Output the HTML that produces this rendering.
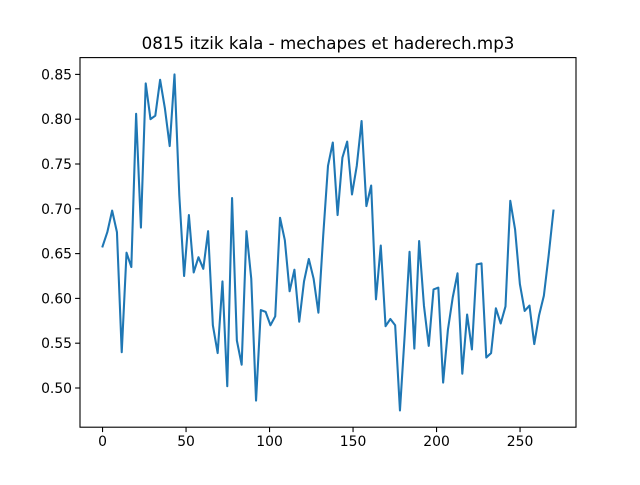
<!DOCTYPE html>
<html><head><meta charset="utf-8"><style>html,body{margin:0;padding:0;background:#fff}svg text{font-family:"DejaVu Sans","Liberation Sans",sans-serif}</style></head>
<body>
<svg id="chart" width="640" height="480" xmlns="http://www.w3.org/2000/svg">
<rect width="640" height="480" fill="#fff"/>
<text x="328" y="49" font-size="16.7" text-anchor="middle" fill="#000">0815 itzik kala - mechapes et haderech.mp3</text>
<g id="plot"></g>
</svg>
<script>
const values = [0.658,0.674,0.698,0.674,0.540,0.651,0.635,0.806,0.679,0.840,0.800,0.804,0.844,0.812,0.770,0.850,0.715,0.625,0.693,0.629,0.646,0.633,0.675,0.570,0.539,0.619,0.502,0.712,0.553,0.526,0.675,0.622,0.486,0.587,0.585,0.570,0.580,0.690,0.665,0.608,0.632,0.574,0.619,0.644,0.622,0.584,0.670,0.748,0.774,0.693,0.757,0.775,0.716,0.748,0.798,0.703,0.726,0.599,0.659,0.569,0.577,0.570,0.475,0.560,0.652,0.544,0.664,0.592,0.547,0.610,0.612,0.506,0.565,0.601,0.628,0.516,0.582,0.543,0.638,0.639,0.534,0.539,0.589,0.572,0.591,0.709,0.677,0.616,0.586,0.592,0.549,0.581,0.603,0.648,0.698];
const xMax = 270;
const xTicks = [0,50,100,150,200,250];
const yTicks = [0.50,0.55,0.60,0.65,0.70,0.75,0.80,0.85];
const yTickLabels = ["0.50","0.55","0.60","0.65","0.70","0.75","0.80","0.85"];

const L=80,R=576,T=57.6,B=427.2;
const xs = values.map((v,i)=>i*xMax/(values.length-1));
const xmin=0-xMax*0.05, xmax=xMax*1.05;
const vmin=Math.min(...values), vmax=Math.max(...values), pad=(vmax-vmin)*0.05;
const ymin=vmin-pad, ymax=vmax+pad;
const X=x=>L+(x-xmin)/(xmax-xmin)*(R-L);
const Y=y=>B-(y-ymin)/(ymax-ymin)*(B-T);
const NS="http://www.w3.org/2000/svg";
const g=document.getElementById('plot');
function el(t,a){const e=document.createElementNS(NS,t);for(const k in a)e.setAttribute(k,a[k]);g.appendChild(e);return e;}

const line=el('polyline',{points:xs.map((x,i)=>X(x).toFixed(2)+','+Y(values[i]).toFixed(2)).join(' '),fill:'none',stroke:'#1f77b4','stroke-width':2.08,'stroke-linejoin':'round','stroke-linecap':'square'});



const frame=el('rect',{x:L,y:T,width:R-L,height:B-T,fill:'none',stroke:'#000','stroke-width':1.1});



xTicks.forEach(t=>{
  const x=X(t);
  const tk=el('line',{x1:x,x2:x,y1:B,y2:B+4.9,stroke:'#000','stroke-width':1.1});
  
  
  const tx=el('text',{x:x,y:B+19,'font-size':13.9,'text-anchor':'middle',fill:'#000'});
  tx.textContent=String(t);
  
  
});
yTicks.forEach((t,i)=>{
  const y=Y(t);
  const tk=el('line',{x1:L-4.9,x2:L,y1:y,y2:y,stroke:'#000','stroke-width':1.1});
  
  
  const tx=el('text',{x:L-8,y:y+5,'font-size':13.9,'text-anchor':'end',fill:'#000'});
  tx.textContent=yTickLabels[i];
  
  
});
</script>
</body></html>
